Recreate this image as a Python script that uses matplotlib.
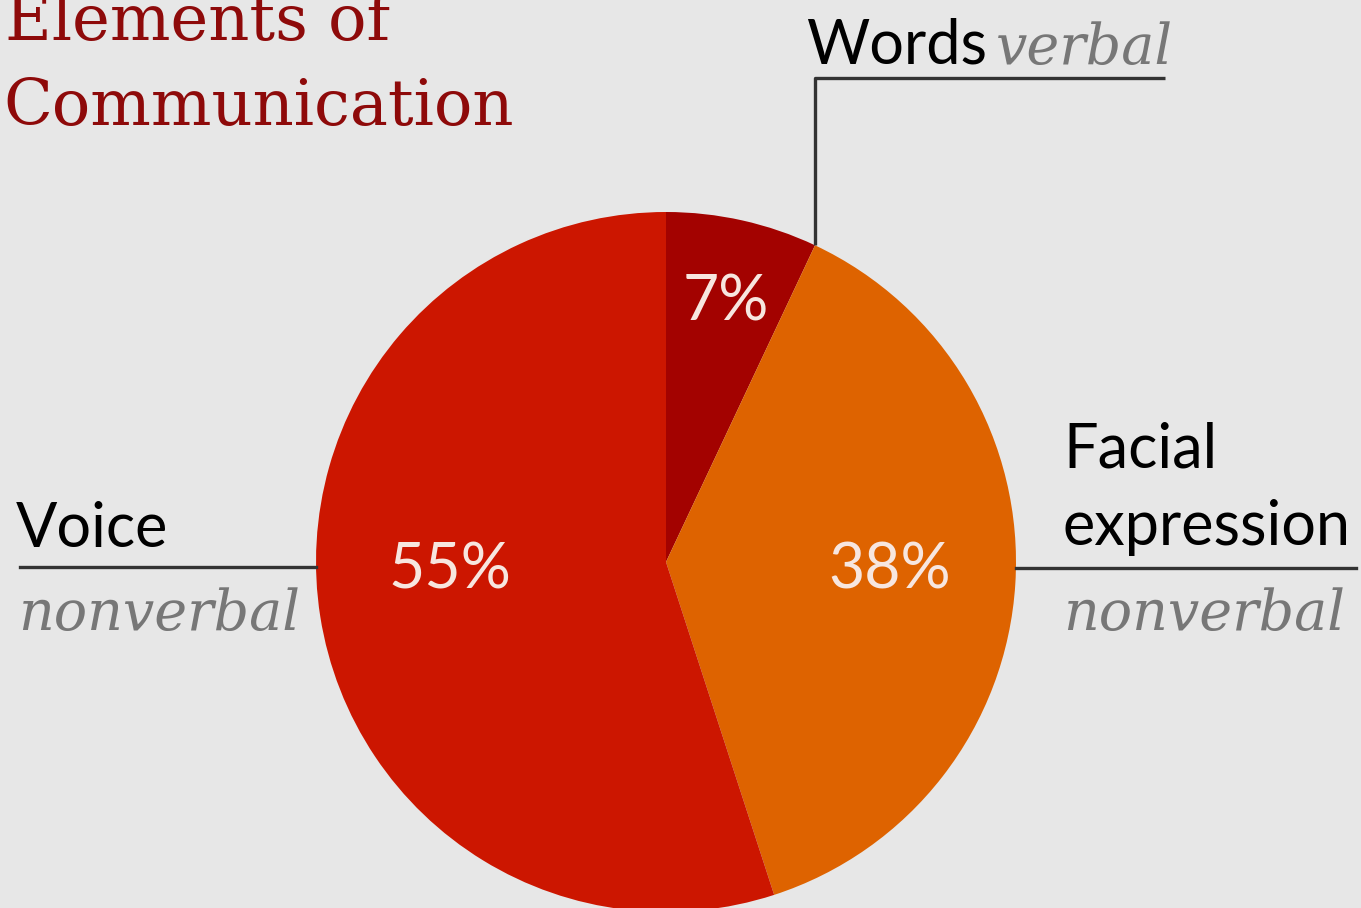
import matplotlib
matplotlib.use("Agg")
import matplotlib.pyplot as plt
import numpy as np

# data
categories = ["Words", "Facial expression", "Voice"]
values = [7, 38, 55]
kinds = ["verbal", "nonverbal", "nonverbal"]
colors = ["#A30200", "#DE6300", "#CC1600"]

W, H = 1361, 908
fig = plt.figure(figsize=(W / 100, H / 100), dpi=100, facecolor="#E7E7E7")
ax = fig.add_axes([0, 0, 1, 1])
ax.set_facecolor("#E7E7E7")

def Y(y):
    return H - y

cx, cy, R = 666, 562, 350
wedges, texts, autotexts = ax.pie(
    values, colors=colors, startangle=90, counterclock=False,
    center=(cx, Y(cy)), radius=R, autopct="%d%%", pctdistance=0.63,
    textprops=dict(color="#F7E6DF", fontsize=45, family="Lato"),
    wedgeprops=dict(linewidth=0))
# label positions (layout)
label_pos = [(726, 297), (890, 565), (450, 565)]
for t, (x, y) in zip(autotexts, label_pos):
    t.set_position((x, Y(y)))
    t.set_verticalalignment("center_baseline")

ax.set_xlim(0, W)
ax.set_ylim(0, H)
ax.set_aspect("equal")
ax.axis("off")

# title
tcol = "#8E0A0A"
ax.text(5, Y(40), "Elements of", fontsize=46, family="DejaVu Serif", color=tcol, va="baseline", ha="left")
ax.text(3, Y(125), "Communication", fontsize=46, family="DejaVu Serif", color=tcol, va="baseline", ha="left")

lc = "#333333"
lw = 2.4
lab = dict(family="Lato", color="black", fontsize=44, va="baseline", ha="left")
ital = dict(family="DejaVu Serif", style="italic", color="#777777", fontsize=40, va="baseline", ha="left")

# Words leader from the edge of the 7% wedge
ang0 = np.deg2rad(wedges[0].theta1)
px = cx + R * np.cos(ang0)
py = Y(cy) + R * np.sin(ang0)
ax.plot([px, px, 1165], [py, Y(78), Y(78)], color=lc, lw=lw, solid_capstyle="butt")
ax.text(806, Y(64), categories[0], **lab)
ax.text(996, Y(64), kinds[0], **ital)

# Voice
ax.plot([20, cx - R], [Y(567), Y(567)], color=lc, lw=lw)
ax.text(16, Y(547), categories[2], **lab)
ax.text(18, Y(630), kinds[2], **ital)

# Facial expression
ax.plot([cx + R, 1356], [Y(568), Y(568)], color=lc, lw=lw)
ax.text(1063, Y(468), "Facial", **lab)
ax.text(1063, Y(545), "expression", **lab)
ax.text(1063, Y(630), kinds[1], **ital)

fig.savefig("out.png", dpi=100, facecolor=fig.get_facecolor())
